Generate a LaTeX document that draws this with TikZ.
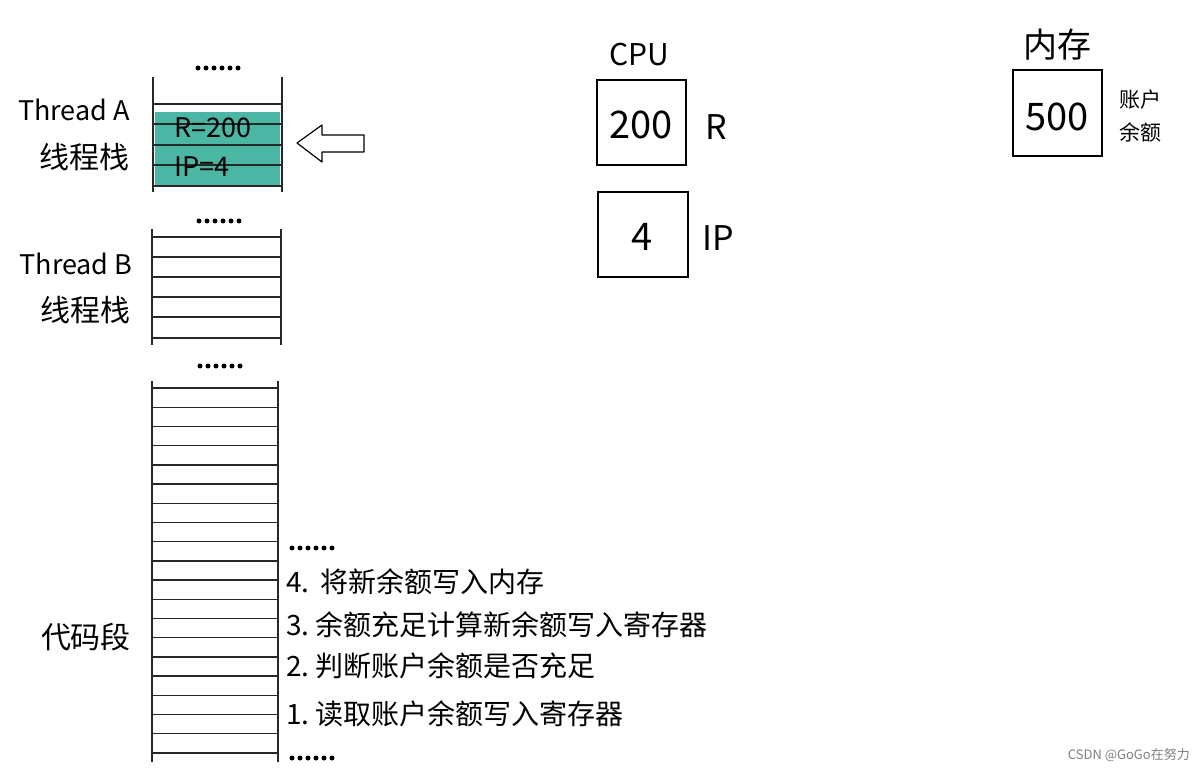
\documentclass[tikz,border=0pt]{standalone}
\usepackage{fontspec}
\setmainfont{Noto Sans CJK SC}
\definecolor{tealfill}{RGB}{76,182,164}
\definecolor{stackline}{RGB}{40,40,40}
\tikzset{
  stk/.style={draw=stackline,line width=1.4pt},
  lbl/.style={inner sep=0pt,font=\fontsize{27}{30}\selectfont},
  cn/.style={inner sep=0pt,font=\fontsize{30}{33}\selectfont},
  reg/.style={draw=black,line width=1.4pt},
  big/.style={inner sep=0pt,font=\fontsize{38}{40}\selectfont},
  codeline/.style={inner sep=0pt,anchor=west,font=\fontsize{28}{30}\selectfont},
  dot/.style={fill=black}
}
\begin{document}
\begin{tikzpicture}[x=1pt,y=-1pt]
\useasboundingbox (0,0) rectangle (1200,770);
\fill[white] (0,0) rectangle (1200,770);

% ---------- Thread A stack ----------
\fill[tealfill] (155,112) rectangle (280,187);
\draw[stk] (153,77) -- (153,192);
\draw[stk] (282,77) -- (282,192);
\foreach \yy in {104,124,145,165,186} \draw[stk] (153,\yy) -- (282,\yy);
\foreach \i in {0,...,5} \fill[dot] (198+\i*8,68) circle (2.5);
\node[lbl,anchor=west] (rA) at (174,128) {R=200};
\node[lbl,anchor=west] (ipA) at (174,167) {IP=4};
\node[lbl] (thA) at (74,110) {Thread A};
\node[cn] (stA) at (84,157) {线程栈};

% hollow arrow
\draw[line width=1.2pt,line join=round] (297,143) -- (322,125) -- (322,135) -- (364,135) -- (364,152) -- (322,152) -- (322,162) -- cycle;

% ---------- Thread B stack ----------
\foreach \i in {0,...,5} \fill[dot] (199+\i*8,221) circle (2.5);
\draw[stk] (152,229) -- (152,345);
\draw[stk] (281,229) -- (281,345);
\foreach \yy in {237,257,277,297,317,338} \draw[stk] (152,\yy) -- (281,\yy);
\foreach \i in {0,...,5} \fill[dot] (200+\i*8,366) circle (2.5);
\node[lbl] (thB) at (76,264) {Thread B};
\node[cn] (stB) at (85,310) {线程栈};

% ---------- Code segment ----------
\draw[stk] (152,381) -- (152,762);
\draw[stk] (278,381) -- (278,762);
\foreach \k in {0,...,19} \draw[stk] (152,388+\k*19.2) -- (278,388+\k*19.2);
\node[cn] (code) at (86,637) {代码段};

\foreach \i in {0,...,5} \fill[dot] (292+\i*8,548) circle (2.5);
\node[codeline] (c4) at (286,582) {4.\hspace{0.4em}将新余额写入内存};
\node[codeline] (c3) at (286,625) {3.\hspace{0.2em}余额充足计算新余额写入寄存器};
\node[codeline] (c2) at (286,666) {2.\hspace{0.2em}判断账户余额是否充足};
\node[codeline] (c1) at (286,714) {1.\hspace{0.2em}读取账户余额写入寄存器};
\foreach \i in {0,...,5} \fill[dot] (292+\i*8,758) circle (2.5);

% ---------- CPU ----------
\node[inner sep=0pt,font=\fontsize{30}{32}\selectfont] (cpu) at (639,55) {CPU};
\draw[reg] (597,80) rectangle (686,165);
\node[big] (rval) at (641,125) {200};
\node[inner sep=0pt,font=\fontsize{34}{36}\selectfont] (rname) at (716,127) {R};
\draw[reg] (598,192) rectangle (688,277);
\node[big] (ipval) at (642,237) {4};
\node[inner sep=0pt,font=\fontsize{34}{36}\selectfont] (ipname) at (718,238) {IP};

% ---------- Memory ----------
\node[inner sep=0pt,font=\fontsize{34}{36}\selectfont] (mem) at (1057,45) {内存};
\draw[reg] (1013,70) rectangle (1102,156);
\node[big] (mval) at (1057,117) {500};
\node[inner sep=0pt,font=\fontsize{21}{24}\selectfont] (acc1) at (1140,100) {账户};
\node[inner sep=0pt,font=\fontsize{21}{24}\selectfont] (acc2) at (1140,132) {余额};

% watermark
\node[inner sep=0pt,anchor=east,text=gray,font=\fontsize{13}{15}\selectfont] (wm) at (1190,755) {CSDN @GoGo在努力};
\end{tikzpicture}
\end{document}
